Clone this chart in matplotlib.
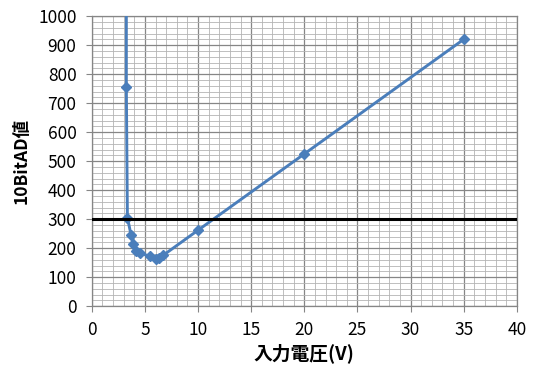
import matplotlib
matplotlib.use('Agg')
import matplotlib.pyplot as plt
import numpy as np

plt.rcParams['font.family'] = ['Noto Sans CJK JP', 'DejaVu Sans']

# measured input voltage vs 10-bit AD value
volts = [3.25, 3.25, 3.35, 3.7, 3.9, 4.2, 4.5, 5.5, 6.0, 6.3, 6.7, 10, 20, 35]
adval = [1030, 755, 305, 245, 215, 190, 183, 172, 163, 165, 175, 262, 525, 920]

# threshold line
thr_x = [0, 40]
thr_y = [300, 300]

fig = plt.figure(figsize=(5.4, 3.68), dpi=100)
ax = fig.add_axes([0.170, 0.168, 0.787, 0.788])

ax.plot(volts, adval, color='#4A7EBB', lw=2.1, marker='D', ms=5.5,
        markeredgecolor='#4A7EBB', zorder=3)
ax.plot(thr_x, thr_y, color='black', lw=2.2, zorder=4)

ax.set_xlim(0, 40)
ax.set_ylim(0, 1000)
ax.set_xticks(np.arange(0, 41, 5))
ax.set_yticks(np.arange(0, 1001, 100))
ax.set_xticks(np.arange(0, 41, 1), minor=True)
ax.set_yticks(np.arange(0, 1001, 20), minor=True)
ax.grid(which='major', color='#868686', lw=0.9)
ax.grid(which='minor', color='#B4B4B4', lw=0.6)
ax.set_axisbelow(True)

for s in ax.spines.values():
    s.set_color('#868686')
    s.set_linewidth(0.9)

ax.tick_params(which='major', direction='out', length=4, color='#868686',
               labelsize=12.5, pad=7)
ax.tick_params(which='minor', length=0)

ax.set_xlabel('入力電圧(V)', fontsize=13.5, fontweight='bold', labelpad=3)
ax.set_ylabel('10BitAD値', fontsize=12.5, fontweight='bold', labelpad=5)

plt.savefig('out.png', dpi=100)
